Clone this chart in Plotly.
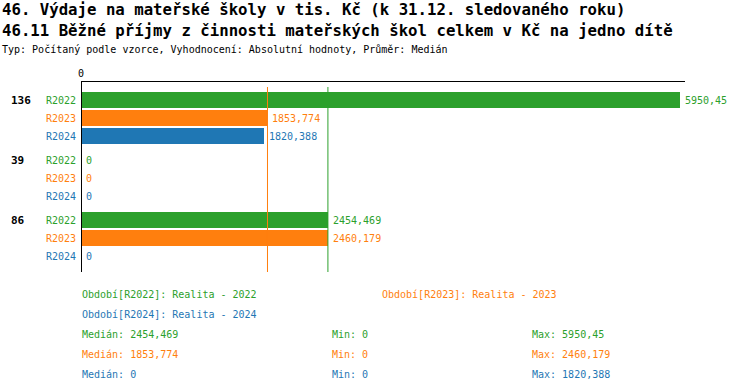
import plotly.graph_objects as go

# ---- data ----
categories = ["136", "39", "86"]
series_names = ["R2022", "R2023", "R2024"]
values_r2022 = [5950.45, 0, 2454.469]
values_r2023 = [1853.774, 0, 2460.179]
values_r2024 = [1820.388, 0, 0]
medians = [2454.469, 1853.774, 0]
mins = [0, 0, 0]
maxs = [5950.45, 2460.179, 1820.388]
period_labels = ["Období[R2022]: Realita - 2022",
                 "Období[R2023]: Realita - 2023",
                 "Období[R2024]: Realita - 2024"]

title1 = "46. Výdaje na mateřské školy v tis. Kč (k 31.12. sledovaného roku)"
title2 = "46.11 Běžné příjmy z činnosti mateřských škol celkem v Kč na jedno dítě"
subtitle = "Typ: Počítaný podle vzorce, Vyhodnocení: Absolutní hodnoty, Průměr: Medián"

colors = ["#2ca02c", "#ff7f0e", "#1f77b4"]
series_values = [values_r2022, values_r2023, values_r2024]

W, H = 750, 392
L, R, T, B = 81, 685, 82, 272
FONT = "DejaVu Sans Mono"


def fmt(v):
    s = ("%.3f" % v).rstrip("0").rstrip(".")
    return s.replace(".", ",")


def px2x(px):
    return (px - L) / (R - L)


def px2y(py):
    return (B - py) / (B - T)


# y positions (pixel-like units): group spacing 60, row spacing 18
def ypos(g, r):
    return 100 + g * 60 + r * 18


fig = go.Figure()
annotations = []
for si, (name, vals) in enumerate(zip(series_names, series_values)):
    ys = [ypos(g, si) for g in range(len(categories))]
    fig.add_trace(go.Bar(
        x=vals, y=ys, orientation="h", width=16,
        marker=dict(color=colors[si], line=dict(width=0)),
        name=name, showlegend=False, hoverinfo="skip",
    ))
    for v, y in zip(vals, ys):
        annotations.append(dict(
            x=v, y=y, xref="x", yref="y", text=fmt(v), xshift=3,
            showarrow=False, xanchor="left", yanchor="middle",
            font=dict(family=FONT, size=10, color=colors[si])))

# group labels and series labels
for g, cat in enumerate(categories):
    annotations.append(dict(
        x=px2x(9), y=ypos(g, 0), xref="paper", yref="y", text="<b>%s</b>" % cat,
        showarrow=False, xanchor="left", yanchor="middle",
        font=dict(family=FONT, size=11, color="black")))
    for si, name in enumerate(series_names):
        annotations.append(dict(
            x=px2x(78), y=ypos(g, si), xref="paper", yref="y", text=name,
            showarrow=False, xanchor="right", yanchor="middle",
            font=dict(family=FONT, size=10, color=colors[si])))

# titles
annotations.append(dict(x=px2x(0), y=px2y(10), xref="paper", yref="paper", text="<b>%s</b>" % title1,
                        showarrow=False, xanchor="left", yanchor="middle",
                        font=dict(family=FONT, size=15.7, color="black")))
annotations.append(dict(x=px2x(0), y=px2y(30), xref="paper", yref="paper", text="<b>%s</b>" % title2,
                        showarrow=False, xanchor="left", yanchor="middle",
                        font=dict(family=FONT, size=15.7, color="black")))
annotations.append(dict(x=px2x(0), y=px2y(50), xref="paper", yref="paper", text=subtitle,
                        showarrow=False, xanchor="left", yanchor="middle",
                        font=dict(family=FONT, size=10, color="black")))

# legend-like info
leg_pos = [(80, 294), (380, 294), (80, 314)]
for si in range(3):
    x, y = leg_pos[si]
    annotations.append(dict(x=px2x(x), y=px2y(y), xref="paper", yref="paper", text=period_labels[si],
                            showarrow=False, xanchor="left", yanchor="middle",
                            font=dict(family=FONT, size=10, color=colors[si])))
for si in range(3):
    y = 334 + si * 20
    for x, label, v in [(80, "Medián", medians[si]), (330, "Min", mins[si]), (530, "Max", maxs[si])]:
        annotations.append(dict(x=px2x(x), y=px2y(y), xref="paper", yref="paper",
                                text="%s: %s" % (label, fmt(v)),
                                showarrow=False, xanchor="left", yanchor="middle",
                                font=dict(family=FONT, size=10, color=colors[si])))

shapes = []
for si, m in enumerate(medians):
    if m > 0:
        shapes.append(dict(type="line", xref="x", yref="paper", x0=m, x1=m,
                           y0=0, y1=px2y(87), line=dict(color=colors[si], width=1)))
shapes.append(dict(type="line", xref="x", yref="paper", x0=0, x1=0, y0=0, y1=1,
                   line=dict(color="black", width=2)))

fig.update_layout(
    width=W, height=H,
    margin=dict(l=L, r=W - R, t=T, b=H - B, pad=0, autoexpand=False),
    paper_bgcolor="white", plot_bgcolor="white",
    barmode="overlay", bargap=0,
    showlegend=False,
    annotations=annotations, shapes=shapes,
    xaxis=dict(range=[0, 6004], side="top", tickvals=[0], ticktext=["0"], automargin=False,
               showgrid=False, zeroline=False, showline=True, linecolor="black", linewidth=1,
               ticks="", tickfont=dict(family=FONT, size=10, color="black"), fixedrange=True),
    yaxis=dict(range=[B, T], showgrid=False, zeroline=False, showticklabels=False, automargin=False,
               ticks="", showline=False, fixedrange=True),
    font=dict(family=FONT),
)

fig.write_html("out.html", config={"displayModeBar": False},
               post_script="document.body.style.margin='0';")
